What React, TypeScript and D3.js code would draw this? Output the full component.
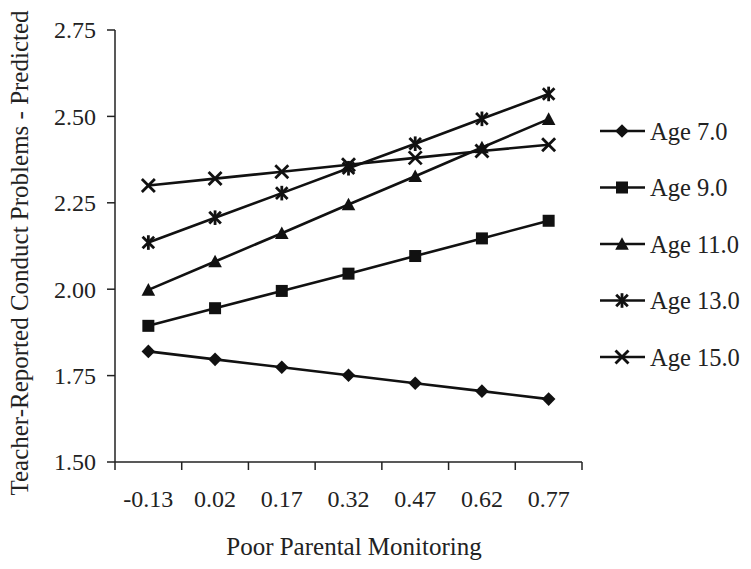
import React from "react";
import * as d3 from "d3";

const categories = ["-0.13", "0.02", "0.17", "0.32", "0.47", "0.62", "0.77"];
const yTicks = [1.5, 1.75, 2.0, 2.25, 2.5, 2.75];
const seriesNames = ["Age 7.0", "Age 9.0", "Age 11.0", "Age 13.0", "Age 15.0"];
const age7 = [1.82, 1.797, 1.774, 1.751, 1.728, 1.705, 1.682];
const age9 = [1.894, 1.945, 1.995, 2.045, 2.096, 2.147, 2.198];
const age11 = [1.998, 2.08, 2.162, 2.245, 2.327, 2.41, 2.492];
const age13 = [2.135, 2.207, 2.278, 2.35, 2.421, 2.493, 2.565];
const age15 = [2.3, 2.32, 2.34, 2.36, 2.38, 2.4, 2.418];
const seriesValues = [age7, age9, age11, age13, age15];
const markerTypes = ["diamond", "square", "triangle", "asterisk", "cross"];

const W = 751;
const H = 569;
const left = 115;
const right = 582;
const top = 30;
const bottom = 462;

function Marker({ type, x, y }: { type: string; x: number; y: number }) {
  const c = "#111";
  if (type === "diamond") {
    const r = 6.8;
    return <path d={`M${x},${y - r}L${x + r},${y}L${x},${y + r}L${x - r},${y}Z`} fill={c} />;
  }
  if (type === "square") {
    const s = 6;
    return <rect x={x - s} y={y - s} width={2 * s} height={2 * s} fill={c} />;
  }
  if (type === "triangle") {
    const s = 6.8;
    return <path d={`M${x},${y - s}L${x + s},${y + s * 0.85}L${x - s},${y + s * 0.85}Z`} fill={c} />;
  }
  if (type === "asterisk") {
    const s = 5.8;
    return (
      <g stroke={c} strokeWidth={2.8}>
        <line x1={x - s} y1={y - s} x2={x + s} y2={y + s} />
        <line x1={x - s} y1={y + s} x2={x + s} y2={y - s} />
        <line x1={x} y1={y - s - 1.5} x2={x} y2={y + s + 1.5} />
      </g>
    );
  }
  const s = 6.5;
  return (
    <g stroke={c} strokeWidth={2.8}>
      <line x1={x - s} y1={y - s} x2={x + s} y2={y + s} />
      <line x1={x - s} y1={y + s} x2={x + s} y2={y - s} />
    </g>
  );
}

export default function App() {
  const x = d3.scaleBand<string>().domain(categories).range([left, right]);
  const y = d3.scaleLinear().domain([1.5, 2.75]).range([bottom, top]);
  const cx = (c: string) => (x(c) as number) + x.bandwidth() / 2;
  const line = d3
    .line<number>()
    .x((_, i) => cx(categories[i]))
    .y((d) => y(d));
  const font = "'Liberation Serif', 'Times New Roman', serif";
  const legendY = d3.scaleLinear().domain([0, 4]).range([131, 357]);

  return (
    <svg width={W} height={H} style={{ position: "absolute", left: 0, top: 0, background: "#fff" }} fontFamily={font}>
      <rect width={W} height={H} fill="#fff" />
      {/* y axis */}
      <line x1={left} y1={top} x2={left} y2={bottom} stroke="#222" strokeWidth={1.5} />
      {yTicks.map((t) => (
        <g key={t}>
          <line x1={left - 8} x2={left} y1={y(t)} y2={y(t)} stroke="#222" strokeWidth={1.5} />
          <text x={96} y={y(t)} dy="0.35em" textAnchor="end" fontSize={24} fill="#222">
            {t.toFixed(2)}
          </text>
        </g>
      ))}
      {/* x axis */}
      <line x1={left} y1={bottom} x2={right} y2={bottom} stroke="#222" strokeWidth={1.5} />
      {categories.map((c) => (
        <line key={"t" + c} x1={x(c)} x2={x(c)} y1={bottom} y2={bottom + 8} stroke="#222" strokeWidth={1.5} />
      ))}
      <line x1={right} x2={right} y1={bottom} y2={bottom + 8} stroke="#222" strokeWidth={1.5} />
      {categories.map((c) => (
        <text key={"l" + c} x={cx(c)} y={507} textAnchor="middle" fontSize={24} fill="#222">
          {c}
        </text>
      ))}
      <text x={354} y={555} textAnchor="middle" fontSize={25} fill="#222">
        Poor Parental Monitoring
      </text>
      <text
        transform={`translate(28, 253) rotate(-90)`}
        textAnchor="middle"
        fontSize={25}
        fill="#222"
      >
        Teacher-Reported Conduct Problems - Predicted
      </text>
      {/* series */}
      {seriesValues.map((vals, si) => (
        <g key={si}>
          <path d={line(vals) || ""} fill="none" stroke="#111" strokeWidth={2.6} />
          {vals.map((v, i) => (
            <Marker key={i} type={markerTypes[si]} x={cx(categories[i])} y={y(v)} />
          ))}
        </g>
      ))}
      {/* legend */}
      {seriesNames.map((n, i) => (
        <g key={n}>
          <line x1={600} x2={645} y1={legendY(i)} y2={legendY(i)} stroke="#111" strokeWidth={2.6} />
          <Marker type={markerTypes[i]} x={622} y={legendY(i)} />
          <text x={650} y={legendY(i)} dy="0.35em" fontSize={24.5} fill="#222">
            {n}
          </text>
        </g>
      ))}
    </svg>
  );
}
